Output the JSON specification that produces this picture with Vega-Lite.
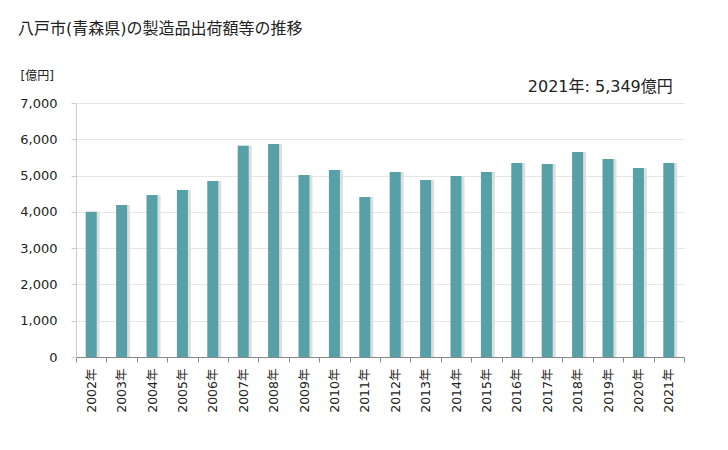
{
  "$schema": "https://vega.github.io/schema/vega-lite/v6.json",
  "width": 608,
  "height": 254,
  "autosize": {"type": "none"},
  "padding": {"left": 76, "top": 103, "right": 44, "bottom": 93},
  "background": "white",
  "config": {
    "font": "DejaVu Sans, Noto Sans CJK JP",
    "view": {"stroke": null}
  },
  "title": {
    "text": "八戸市(青森県)の製造品出荷額等の推移",
    "anchor": "start",
    "frame": "group",
    "fontSize": 16,
    "fontWeight": "normal",
    "color": "#222",
    "dx": -58,
    "offset": 32
  },
  "data": {
    "values": [
      {"year": "2002年", "value": 4000},
      {"year": "2003年", "value": 4190},
      {"year": "2004年", "value": 4466},
      {"year": "2005年", "value": 4600},
      {"year": "2006年", "value": 4850},
      {"year": "2007年", "value": 5820},
      {"year": "2008年", "value": 5868},
      {"year": "2009年", "value": 5014},
      {"year": "2010年", "value": 5151},
      {"year": "2011年", "value": 4407},
      {"year": "2012年", "value": 5096},
      {"year": "2013年", "value": 4876},
      {"year": "2014年", "value": 4986},
      {"year": "2015年", "value": 5096},
      {"year": "2016年", "value": 5344},
      {"year": "2017年", "value": 5317},
      {"year": "2018年", "value": 5647},
      {"year": "2019年", "value": 5455},
      {"year": "2020年", "value": 5207},
      {"year": "2021年", "value": 5349}
    ]
  },
  "encoding": {
    "x": {
      "field": "year",
      "type": "nominal",
      "sort": null,
      "scale": {"paddingInner": 0, "paddingOuter": 0},
      "axis": {
        "title": null,
        "labelAngle": -90,
        "labelFontSize": 12.5,
        "labelColor": "#222",
        "labelPadding": 6,
        "domainColor": "#888",
        "tickColor": "#888",
        "tickBand": "extent",
        "tickSize": 5
      }
    },
    "y": {
      "field": "value",
      "type": "quantitative",
      "scale": {"domain": [0, 7000], "nice": false},
      "axis": {
        "title": "[億円]",
        "titleAngle": 0,
        "titleFontSize": 12,
        "titleFontWeight": "normal",
        "titleColor": "#222",
        "titleAlign": "left",
        "titleBaseline": "middle",
        "titleX": -56,
        "titleY": -28,
        "tickCount": 7,
        "format": ",d",
        "labelFontSize": 13,
        "labelColor": "#222",
        "labelPadding": 14,
        "gridColor": "#e6e6e6",
        "domainColor": "#cccccc",
        "tickColor": "#cccccc",
        "tickSize": 5
      }
    }
  },
  "layer": [
    {
      "mark": {"type": "bar", "color": "#dedede", "size": 13, "xOffset": 2}
    },
    {
      "mark": {"type": "bar", "color": "#57a0a7", "size": 11}
    },
    {
      "transform": [{"filter": "datum.year == '2021年'"}],
      "mark": {"type": "text", "align": "right", "baseline": "middle", "fontSize": 16, "color": "#222", "dx": 4},
      "encoding": {
        "y": {"datum": 7440},
        "text": {"value": "2021年: 5,349億円"}
      }
    }
  ]
}
